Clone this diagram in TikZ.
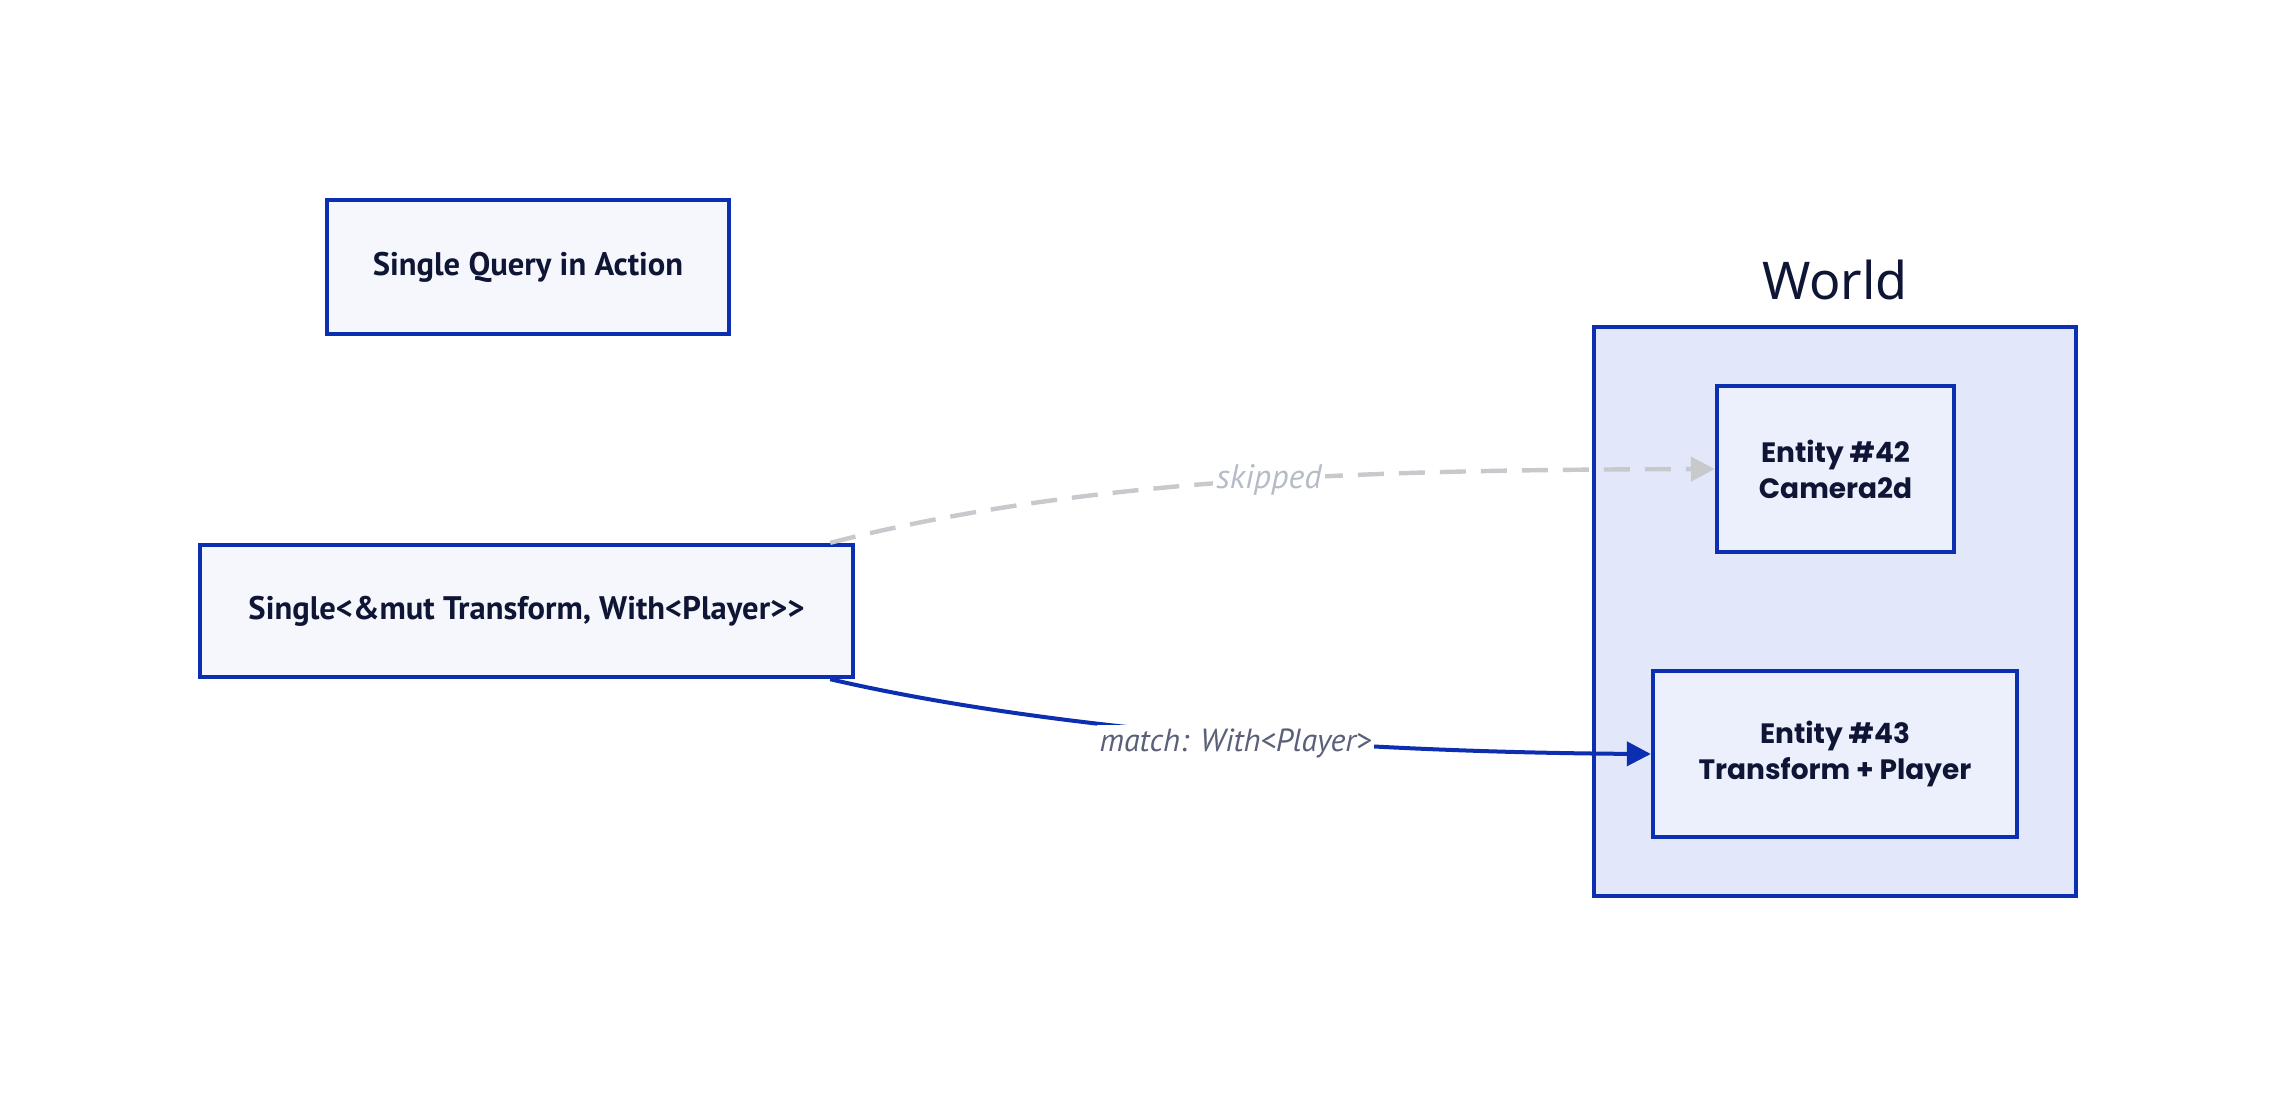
\documentclass[tikz,border=0pt]{standalone}
\usepackage{fontspec}
\setmainfont{PT Sans}
\newfontfamily\entfont{Poppins}
\newfontfamily\worldfont{Noto Sans}
\usetikzlibrary{arrows.meta}
\definecolor{bord}{HTML}{0B2FB0}
\definecolor{boxfill}{HTML}{F5F7FD}
\definecolor{worldfill}{HTML}{E2E8F9}
\definecolor{entfill}{HTML}{EBF0FC}
\definecolor{ink}{HTML}{0F1535}
\definecolor{skipline}{HTML}{C8C9CD}
\definecolor{skiptext}{HTML}{B6BBC8}
\definecolor{matchtext}{HTML}{5B6079}
\tikzset{
  qbox/.style={draw=bord, line width=2.2pt, fill=boxfill, text=ink, font=\bfseries\fontsize{16.3}{18}\selectfont, inner sep=0pt},
  worldbox/.style={draw=bord, line width=2.2pt, fill=worldfill, inner sep=0pt},
  entbox/.style={draw=bord, line width=2.2pt, fill=entfill, text=ink, font=\entfont\bfseries\fontsize{14}{18}\selectfont, align=center, inner sep=0pt},
  skiparrow/.style={draw=skipline, line width=2.2pt, dash pattern=on 13pt off 7.5pt, -{Triangle[length=12pt,width=12pt]}},
  matcharrow/.style={draw=bord, line width=2pt, -{Triangle[length=12pt,width=12pt]}},
  edgelbl/.style={fill=white, font=\itshape\fontsize{16}{18}\selectfont, inner sep=1.5pt},
}
\begin{document}
\begin{tikzpicture}[x=0.5pt,y=-0.5pt]
\useasboundingbox (0,0) rectangle (2278,1098);
\fill[white] (0,0) rectangle (2278,1098);
\node[qbox, minimum width=201pt, minimum height=67pt] (title) at (528,267) {Single Query in Action};
\node[qbox, minimum width=326.5pt, minimum height=66pt] (single) at (526.5,611) {Single<\&mut Transform, With<Player>{}>};
\node[worldbox, minimum width=241pt, minimum height=284.5pt] (world) at (1835,611.5) {};
\node[text=ink, font=\worldfont\fontsize{26}{30}\selectfont] (worldlbl) at (1835,280) {World};
\node[entbox, minimum width=118.5pt, minimum height=83pt] (e42) at (1835.5,469) {Entity \#42\\Camera2d};
\node[entbox, minimum width=182pt, minimum height=83pt] (e43) at (1835,754) {Entity \#43\\Transform + Player};
\draw[skiparrow] ([xshift=-12.5pt]single.north east) .. controls (1100,474) and (1400,470) .. (e42.west)
  node[edgelbl, font=\itshape\fontsize{17}{18}\selectfont, text=skiptext, pos=0.515] {skipped};
\draw[matcharrow] ([xshift=-12.5pt]single.south east) .. controls (1050,730) and (1350,752) .. (e43.west)
  node[edgelbl, text=matchtext, pos=0.53, yshift=-3pt] {match: With<Player>};
\end{tikzpicture}
\end{document}
